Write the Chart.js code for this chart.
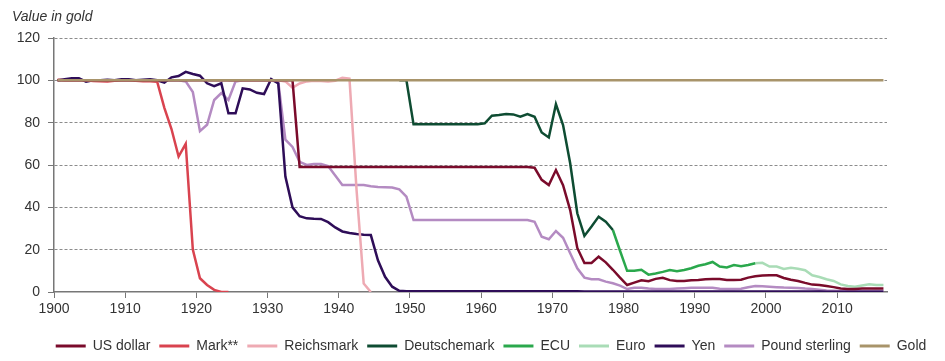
<!DOCTYPE html>
<html>
<head>
<meta charset="utf-8">
<script src="https://cdn.jsdelivr.net/npm/chart.js@4"></script>
<style>
  html, body { margin: 0; padding: 0; background: #fff; }
  #wrap { width: 945px; height: 361px; }
</style>
</head>
<body>
<div id="wrap"><canvas id="myChart"></canvas></div>
<script>
const ctx = document.getElementById('myChart').getContext('2d');

const yAxisTitle = 'Value in gold';
const yTicks = [0, 20, 40, 60, 80, 100, 120];
const xTicks = [1900, 1910, 1920, 1930, 1940, 1950, 1960, 1970, 1980, 1990, 2000, 2010];

// one value per year, each series starts at its own year
const usDollarFrom = 1900;
const usDollar = [
    100, 100, 100, 100, 100, 100, 100, 100, 100, 100,
    100, 100, 100, 100, 100, 100, 100, 100, 100, 100,
    100, 100, 100, 100, 100, 100, 100, 100, 100, 100,
    100, 100, 100, 100, 59, 59, 59, 59, 59, 59,
    59, 59, 59, 59, 59, 59, 59, 59, 59, 59,
    59, 59, 59, 59, 59, 59, 59, 59, 59, 59,
    59, 59, 59, 59, 59, 59, 59, 58.7, 53, 50.5,
    57.6, 50.5, 38.7, 20.8, 13.7, 13.7, 16.7, 14, 10.5, 6.8,
    3.3, 4.4, 5.5, 5.1, 6.2, 6.7, 5.6, 5.2, 5.2, 5.6,
    5.7, 6, 6.1, 6.1, 5.7, 5.7, 5.8, 6.8, 7.4, 7.8,
    7.9, 7.9, 6.6, 5.8, 5.2, 4.3, 3.5, 3.3, 2.8, 2.3,
    1.7, 1.4, 1.4, 1.6, 1.6, 1.6, 1.6
];

const markFrom = 1900;
const mark = [
    100.3, 100, 100, 100, 100, 99.7, 99.6, 99.5, 99.8, 100,
    100, 99.8, 99.6, 99.6, 99.3, 87, 77, 64, 70, 20,
    6.5, 3.3, 1, 0, 0
];

const reichsmarkFrom = 1924;
const reichsmark = [
    100, 100, 100, 100, 100, 100,
    100, 100, 99.5, 96.5, 98.5, 99.5, 99.8, 99.7, 99.5, 99.8,
    101.2, 100.8, 48, 4, 0
];

const deutschemarkFrom = 1948;
const deutschemark = [
    100, 100,
    79.2, 79.2, 79.2, 79.2, 79.2, 79.2, 79.2, 79.2, 79.2, 79.2,
    79.7, 83.3, 83.6, 84.1, 83.9, 82.8, 84.1, 82.8, 75.4, 73,
    88.7, 78.9, 60.8, 37.2, 26.5, 30.9, 35.6, 33.2, 29.3
];

const ecuFrom = 1978;
const ecu = [
    29.3, 19.5,
    10, 10, 10.5, 8.2, 8.7, 9.5, 10.4, 9.8, 10.4, 11.2,
    12.4, 13.1, 14.2, 12, 11.6, 12.7, 12.2, 12.8, 13.6
];

const euroFrom = 1998;
const euro = [
    13.6, 13.8,
    12, 12, 10.9, 11.4, 11, 10.3, 7.9, 7.1, 6, 5.2,
    3.6, 2.8, 2.5, 3.1, 3.7, 3.3, 3.3
];

const yenFrom = 1900;
const yen = [
    100, 100.5, 101, 101, 99.4, 100, 100, 100.3, 100, 100.5,
    100.5, 100, 100.3, 100.5, 100, 98.9, 101.4, 102, 104, 103,
    102.2, 98.6, 97.3, 98.6, 84.4, 84.4, 96.2, 95.7, 94.1, 93.5,
    100.6, 98.5, 54.5, 40, 35.8, 34.8, 34.6, 34.5, 33, 30.5,
    28.6, 27.9, 27.4, 27.1, 26.9, 15, 7.2, 2.5, 0.6, 0.4,
    0.4, 0.4, 0.4, 0.4, 0.4, 0.4, 0.4, 0.4, 0.4, 0.4,
    0.4, 0.4, 0.4, 0.4, 0.4, 0.4, 0.4, 0.4, 0.4, 0.4,
    0.4, 0.4, 0.4, 0.3, 0.2, 0.2, 0.2, 0.2, 0.2, 0.2,
    0.2, 0.2, 0.2, 0.2, 0.2, 0.2, 0.2, 0.2, 0.2, 0.2,
    0.2, 0.2, 0.2, 0.2, 0.2, 0.2, 0.2, 0.2, 0.2, 0.2,
    0.2, 0.2, 0.2, 0.2, 0.2, 0.2, 0.2, 0.2, 0.1, 0.1,
    0.1, 0.1, 0.1, 0.1, 0.1, 0.1, 0.1
];

const poundFrom = 1900;
const pound = [
    100, 100, 100, 100, 100, 100, 100, 100, 100, 100,
    100, 100, 100, 100, 100, 100, 100, 100, 99.5, 94.5,
    76, 79, 90.7, 94, 90.7, 99.5, 100, 100, 100, 100,
    100, 99.2, 72, 68.5, 61.5, 60, 60.5, 60.5, 59.5, 55,
    50.5, 50.5, 50.5, 50.5, 50, 49.6, 49.5, 49.4, 48.5, 45,
    34, 34, 34, 34, 34, 34, 34, 34, 34, 34,
    34, 34, 34, 34, 34, 34, 34, 33.2, 26.1, 24.9,
    28.8, 25.6, 18.3, 11.2, 6.8, 6, 6, 4.9, 4.1, 3,
    1.4, 2, 2, 1.6, 1.4, 1.4, 1.4, 1.6, 1.8, 2,
    2, 2, 2, 1.5, 1.4, 1.4, 1.5, 2.2, 2.8, 2.7,
    2.5, 2.3, 2.1, 2, 1.9, 1.6, 1.4, 1.1, 0.7, 0.6,
    0.5, 0.5, 0.5, 0.5, 0.5, 0.6, 0.5
];

const goldFrom = 1900;
const gold = [
    100, 100, 100, 100, 100, 100, 100, 100, 100, 100,
    100, 100, 100, 100, 100, 100, 100, 100, 100, 100,
    100, 100, 100, 100, 100, 100, 100, 100, 100, 100,
    100, 100, 100, 100, 100, 100, 100, 100, 100, 100,
    100, 100, 100, 100, 100, 100, 100, 100, 100, 100,
    100, 100, 100, 100, 100, 100, 100, 100, 100, 100,
    100, 100, 100, 100, 100, 100, 100, 100, 100, 100,
    100, 100, 100, 100, 100, 100, 100, 100, 100, 100,
    100, 100, 100, 100, 100, 100, 100, 100, 100, 100,
    100, 100, 100, 100, 100, 100, 100, 100, 100, 100,
    100, 100, 100, 100, 100, 100, 100, 100, 100, 100,
    100, 100, 100, 100, 100, 100, 100
];

// years sit in the middle of their slot, like the original category axis
function toPoints(from, values) {
    return values.map((v, i) => ({ x: from + i + 0.5, y: v }));
}

function line(label, from, values, color, order) {
    return {
        label: label,
        data: toPoints(from, values),
        borderColor: color,
        backgroundColor: color,
        order: order || 0
    };
}

const font = '"Liberation Sans", Arial, sans-serif';
Chart.defaults.font.family = font;
Chart.defaults.font.size = 14;
Chart.defaults.color = '#333';

// "Value in gold" sits above the y labels, left of the plot
const axisTitle = {
    id: 'axisTitle',
    afterDraw(chart) {
        const c = chart.ctx;
        c.save();
        c.font = 'italic 14px ' + font;
        c.fillStyle = '#333';
        c.textBaseline = 'middle';
        c.fillText(yAxisTitle, 12, 17);
        c.restore();
    }
};

new Chart(ctx, {
    type: 'line',
    data: {
        datasets: [
            line('US dollar', usDollarFrom, usDollar, '#7a0b2b'),
            line('Mark**', markFrom, mark, '#d9434f'),
            line('Reichsmark', reichsmarkFrom, reichsmark, '#eeaab3'),
            line('Deutschemark', deutschemarkFrom, deutschemark, '#0e4c32'),
            line('ECU', ecuFrom, ecu, '#2aa84c'),
            line('Euro', euroFrom, euro, '#a9dcb6'),
            line('Yen', yenFrom, yen, '#2e0d58'),
            line('Pound sterling', poundFrom, pound, '#b48bc2'),
            line('Gold', goldFrom, gold, '#a8946a', -1)
        ]
    },
    options: {
        responsive: true,
        maintainAspectRatio: false,
        animation: false,
        // negative right/bottom padding so the legend lands where the original has it
        layout: { padding: { left: 12, right: -25, top: 38, bottom: -2 } },
        elements: {
            point: { radius: 0 },
            line: { borderWidth: 2.5, tension: 0 }
        },
        scales: {
            x: {
                type: 'linear',
                min: 1900,
                max: 2017,
                afterBuildTicks: s => { s.ticks = xTicks.map(v => ({ value: v })); },
                ticks: { autoSkip: false, maxRotation: 0, padding: 3, callback: v => String(v) },
                grid: { drawOnChartArea: false, tickLength: 6, tickColor: '#777' },
                border: { color: '#777', width: 1.5 },
                afterFit: s => { s.height = 38; }
            },
            y: {
                min: 0,
                max: 120,
                afterBuildTicks: s => { s.ticks = yTicks.map(v => ({ value: v })); },
                ticks: { padding: 8 },
                grid: {
                    color: c => c.tick && c.tick.value === 0 ? 'rgba(0,0,0,0)' : '#8c8c8c',
                    tickLength: 6,
                    tickColor: '#777'
                },
                border: { color: '#777', width: 1.5, dash: [3, 2] },
                afterFit: s => { s.width = 42; }
            },
            // empty right axis, only keeps room right of the plot
            spacer: {
                position: 'right',
                grid: { display: false },
                border: { display: false },
                ticks: { display: false },
                afterFit: s => { s.width = 83; }
            }
        },
        plugins: {
            legend: {
                position: 'bottom',
                labels: {
                    boxWidth: 30,
                    boxHeight: 3,
                    padding: 9,
                    color: '#333',
                    sort: (a, b) => a.datasetIndex - b.datasetIndex,
                    generateLabels: chart => Chart.defaults.plugins.legend.labels.generateLabels(chart)
                        .map(l => Object.assign(l, { lineWidth: 0, fillStyle: l.strokeStyle }))
                }
            },
            tooltip: { enabled: false }
        }
    },
    plugins: [axisTitle]
});
</script>
</body>
</html>
